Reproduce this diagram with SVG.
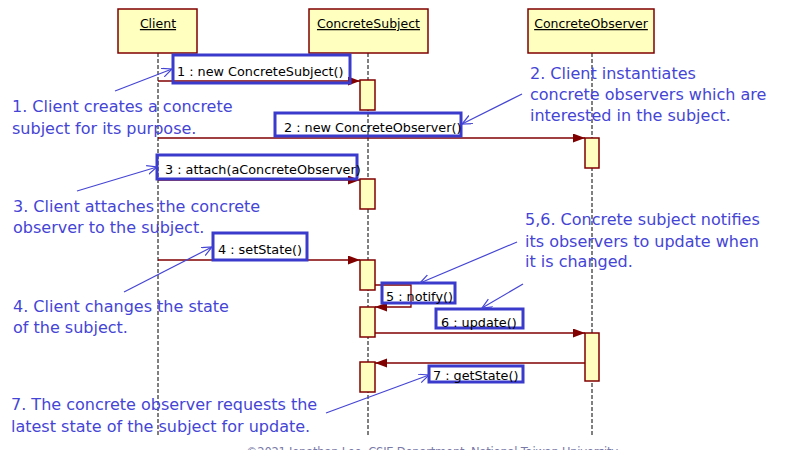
<svg xmlns="http://www.w3.org/2000/svg" width="786" height="450" viewBox="0 0 786 450">
<style>
.hdr{fill:#ffffc0;stroke:#800000;stroke-width:1.5}
.act{fill:#ffffc0;stroke:#800000;stroke-width:1.5}
.life{stroke:#000;stroke-width:1;stroke-dasharray:4,2;fill:none}
.hname{font-family:"DejaVu Sans",sans-serif;font-size:12.5px;fill:#000;text-anchor:middle;text-decoration:underline}
.msg{stroke:#800000;stroke-width:1.3;fill:none;marker-end:url(#fa)}
.lbox{fill:none;stroke:#3a3acc;stroke-width:3}
.ltxt{font-family:"DejaVu Sans",sans-serif;font-size:12.8px;fill:#000}
.note{font-family:"DejaVu Sans",sans-serif;font-size:16px;fill:#4545d5}
.narr{stroke:#4545d5;stroke-width:1.2;fill:none;marker-end:url(#oa)}
.foot{font-family:"DejaVu Sans",sans-serif;font-size:11.5px;fill:#7a7aa8}
</style>
<defs>
<marker id="fa" markerUnits="userSpaceOnUse" markerWidth="13" markerHeight="10" refX="12" refY="4.5" orient="auto" viewBox="0 0 13 10">
<path d="M0,0 L12,4.5 L0,9 z" fill="#800000"/>
</marker>
<marker id="oa" markerUnits="userSpaceOnUse" markerWidth="12" markerHeight="10" refX="10" refY="4.5" orient="auto" viewBox="0 0 12 10">
<path d="M0,0 L10,4.5 L0,9" fill="none" stroke="#4545d5" stroke-width="1.2"/>
</marker>
</defs>
<rect width="786" height="450" fill="#fff"/>

<g id="client">
<line class="life" x1="158" y1="53" x2="158" y2="435"/>
<rect class="hdr" x="118" y="9" width="79" height="44"/>
<text class="hname" x="158" y="28">Client</text>
</g>
<g id="concreteSubject">
<line class="life" x1="368" y1="53" x2="368" y2="435"/>
<rect class="hdr" x="309" y="9" width="119" height="44"/>
<text class="hname" x="368.5" y="28">ConcreteSubject</text>
<rect class="act" x="360" y="80" width="15" height="30"/>
<rect class="act" x="360" y="179" width="15" height="30"/>
<rect class="act" x="360" y="260" width="15" height="30"/>
<rect class="act" x="360" y="307" width="15" height="30"/>
<rect class="act" x="360" y="362" width="15" height="30"/>
</g>
<g id="concreteObserver">
<line class="life" x1="592" y1="53" x2="592" y2="435"/>
<rect class="hdr" x="528" y="9" width="126" height="44"/>
<text class="hname" x="591" y="28">ConcreteObserver</text>
<rect class="act" x="585" y="138" width="14" height="30"/>
<rect class="act" x="585" y="333" width="14" height="48"/>
</g>

<g id="connectors">
<line class="msg" x1="158" y1="81" x2="360" y2="81"/>
<line class="msg" x1="158" y1="138" x2="585" y2="138"/>
<line class="msg" x1="158" y1="180" x2="360" y2="180"/>
<line class="msg" x1="158" y1="260" x2="360" y2="260"/>
<path class="msg" d="M375,285 H411 V307 H375"/>
<line class="msg" x1="375" y1="333" x2="585" y2="333"/>
<line class="msg" x1="585" y1="363" x2="375" y2="363"/>
</g>

<g id="labels">
<rect class="lbox" x="173" y="55" width="177" height="28"/>
<text class="ltxt" x="177" y="76">1 : new ConcreteSubject()</text>
<rect class="lbox" x="275" y="113" width="186" height="23"/>
<text class="ltxt" x="284" y="132">2 : new ConcreteObserver()</text>
<rect class="lbox" x="157" y="155" width="200" height="24"/>
<text class="ltxt" x="165" y="174">3 : attach(aConcreteObserver)</text>
<rect class="lbox" x="213" y="233" width="94" height="27"/>
<text class="ltxt" x="218" y="254">4 : setState()</text>
<rect class="lbox" x="382" y="283" width="73" height="20"/>
<text class="ltxt" x="386" y="301">5 : notify()</text>
<rect class="lbox" x="436" y="309" width="87" height="19"/>
<text class="ltxt" x="441" y="327">6 : update()</text>
<rect class="lbox" x="429" y="366" width="94" height="16"/>
<text class="ltxt" x="433" y="380">7 : getState()</text>
</g>

<g id="annotations">
<text class="note" x="12" y="112">1. Client creates a concrete</text>
<text class="note" x="12" y="134">subject for its purpose.</text>
<line class="narr" x1="115" y1="91" x2="172" y2="69"/>
<text class="note" x="530" y="79">2. Client instantiates</text>
<text class="note" x="530" y="100">concrete observers which are</text>
<text class="note" x="530" y="121">interested in the subject.</text>
<line class="narr" x1="522" y1="94" x2="462" y2="124"/>
<text class="note" x="13" y="212">3. Client attaches the concrete</text>
<text class="note" x="13" y="233">observer to the subject.</text>
<line class="narr" x1="77" y1="191" x2="157" y2="167"/>
<text class="note" x="13" y="312">4. Client changes the state</text>
<text class="note" x="13" y="333">of the subject.</text>
<line class="narr" x1="124" y1="292" x2="212" y2="247"/>
<text class="note" x="525" y="225">5,6. Concrete subject notifies</text>
<text class="note" x="525" y="247">its observers to update when</text>
<text class="note" x="525" y="267">it is changed.</text>
<line class="narr" x1="517" y1="242" x2="420" y2="283"/>
<line class="narr" x1="523" y1="284" x2="482" y2="308"/>
<text class="note" x="11" y="410">7. The concrete observer requests the</text>
<text class="note" x="11" y="432">latest state of the subject for update.</text>
<line class="narr" x1="326" y1="413" x2="429" y2="375"/>
</g>
<text class="foot" x="246" y="456" textLength="372">©2021 Jonathan Lee, CSIE Department, National Taiwan University</text>
</svg>
